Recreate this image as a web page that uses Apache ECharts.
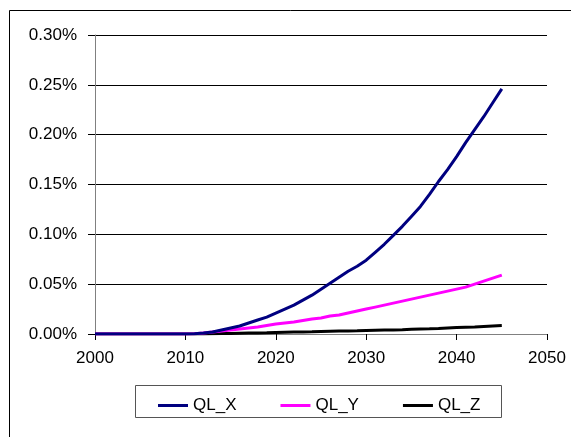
<!DOCTYPE html>
<html>
<head>
<meta charset="utf-8">
<script src="https://cdn.jsdelivr.net/npm/echarts@6/dist/echarts.min.js"></script>
<style>
 html,body{margin:0;padding:0;background:#fff;}
 #chart{width:571px;height:437px;}
</style>
</head>
<body>
<div id="chart"></div>
<script>
// years 2000..2045, values in percent
var years = [];
for (var y = 2000; y <= 2045; y++) years.push(y);

var qlX = [0,0,0,0,0,0,0,0,0,0,0,
  0.0003,0.001,0.002,0.004,0.006,0.008,0.011,0.014,0.017,0.021,
  0.025,0.029,0.034,0.039,0.045,0.051,0.057,0.063,0.068,0.074,
  0.082,0.090,0.099,0.108,0.118,0.128,0.140,0.153,0.165,0.178,
  0.192,0.205,0.218,0.232,0.246];
var qlY = [0,0,0,0,0,0,0,0,0,0,0,
  0.0003,0.001,0.002,0.003,0.004,0.005,0.006,0.007,0.0085,0.010,
  0.011,0.012,0.0135,0.015,0.016,0.018,0.019,0.021,0.023,0.025,
  0.027,0.029,0.031,0.033,0.035,0.037,0.039,0.041,0.043,0.045,
  0.047,0.050,0.053,0.056,0.059];
var qlZ = [0,0,0,0,0,0,0,0,0,0,0,
  0,0,0.0002,0.0004,0.0006,0.0008,0.001,0.001,0.0012,0.0015,
  0.0018,0.002,0.002,0.0022,0.0025,0.0028,0.003,0.003,0.0032,0.0035,
  0.0038,0.004,0.004,0.0042,0.0048,0.005,0.0052,0.0055,0.006,0.0065,
  0.0068,0.007,0.0075,0.008,0.0085];

var seriesNames = ['QL_X','QL_Y','QL_Z'];
var seriesColors = ['#000080','#ff00ff','#000000'];
var seriesData = [qlX, qlY, qlZ];

function pairs(arr){
  var out = [];
  for (var i = 0; i < arr.length; i++) out.push([years[i], arr[i]]);
  return out;
}

var myChart = echarts.init(document.getElementById('chart'));
var fontFam = '"Liberation Sans", Arial, sans-serif';

var series = [];
for (var i = 0; i < seriesNames.length; i++) {
  series.push({
    name: seriesNames[i],
    type: 'line',
    data: pairs(seriesData[i]),
    showSymbol: false,
    symbol: 'none',
    lineStyle: {width: 3, color: seriesColors[i]},
    itemStyle: {color: seriesColors[i]},
    z: 10 - i
  });
}

var option = {
  animation: false,
  backgroundColor: '#fff',
  grid: {left: 95, right: 24, top: 35, bottom: 103, containLabel: false},
  xAxis: {
    type: 'value', min: 2000, max: 2050, interval: 10,
    axisLine: {show: true, lineStyle: {color: '#808080', width: 1}},
    axisTick: {show: true, length: 6, lineStyle: {color: '#000'}},
    axisLabel: {color: '#000', fontSize: 17, fontFamily: fontFam, margin: 16,
      formatter: function(v){ return String(v); }},
    splitLine: {show: false}
  },
  yAxis: {
    type: 'value', min: 0, max: 0.3, interval: 0.05,
    axisLine: {show: true, lineStyle: {color: '#808080', width: 1}},
    axisTick: {show: true, length: 7, lineStyle: {color: '#000'}},
    axisLabel: {color: '#000', fontSize: 17, fontFamily: fontFam, margin: 18,
      formatter: function(v){ return v.toFixed(2) + '%'; }},
    splitLine: {show: true, lineStyle: {color: '#000', width: 1}}
  },
  legend: {
    data: seriesNames,
    left: 153, top: 392,
    itemWidth: 30, itemHeight: 3, itemGap: 44,
    icon: 'rect',
    textStyle: {color: '#000', fontSize: 17, fontFamily: fontFam}
  },
  graphic: [
    {type: 'rect', shape: {x: 9.5, y: 10.5, width: 700, height: 600},
     style: {fill: 'none', stroke: '#000', lineWidth: 1}, silent: true},
    {type: 'rect', shape: {x: 135.5, y: 385.5, width: 366, height: 32},
     style: {fill: 'none', stroke: '#555', lineWidth: 1}, silent: true}
  ],
  series: series
};
myChart.setOption(option);
</script>
</body>
</html>
